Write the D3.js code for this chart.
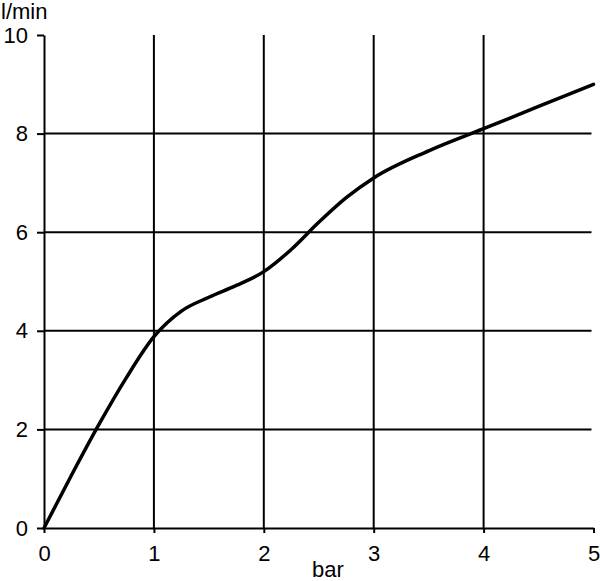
<!DOCTYPE html>
<html><head><meta charset="utf-8">
<script src="https://cdn.jsdelivr.net/npm/d3@7"></script>
<style>body{margin:0;background:#fff}svg{display:block}text{font-family:"Liberation Sans",Arial,sans-serif;fill:#000}</style>
</head><body>
<svg id="c" width="600" height="581"></svg>
<script>
const pressure = [0, 0.25, 0.5, 0.75, 1, 1.25, 1.5, 1.75, 2, 2.25, 2.5, 2.75, 3, 3.5, 4, 4.5, 5];
const flow =     [0, 1.07, 2.1, 3.05, 3.88, 4.4, 4.68, 4.92, 5.2, 5.65, 6.2, 6.7, 7.1, 7.65, 8.1, 8.55, 9.0];
const xTicks = [0, 1, 2, 3, 4, 5];
const yTicks = [0, 2, 4, 6, 8, 10];
const xLabel = "bar";
const yLabel = "l/min";

const svg = d3.select("#c");
const x = d3.scaleLinear().domain([0, 5]).range([44, 593.5]);
const y = d3.scaleLinear().domain([0, 10]).range([528, 35]);

// vertical grid
svg.append("g").selectAll("line").data(xTicks.filter(d => d > 0 && d < 5)).join("line")
  .attr("x1", d => x(d)).attr("x2", d => x(d)).attr("y1", y(10)).attr("y2", y(0))
  .attr("stroke", "#000").attr("stroke-width", 2);
// horizontal grid
svg.append("g").selectAll("line").data(yTicks.filter(d => d > 0 && d < 10)).join("line")
  .attr("x1", x(0)).attr("x2", x(5) - 2).attr("y1", d => y(d)).attr("y2", d => y(d))
  .attr("stroke", "#000").attr("stroke-width", 2);

const xAxis = d3.axisBottom(x).tickValues(xTicks).tickFormat(d3.format("d")).tickSize(5).tickPadding(9).tickSizeOuter(0);
const gx = svg.append("g").attr("transform", `translate(0,${y(0)})`).call(xAxis);
const yAxis = d3.axisLeft(y).tickValues(yTicks).tickFormat(d3.format("d")).tickSize(7).tickPadding(9).tickSizeOuter(0);
const gy = svg.append("g").attr("transform", `translate(${x(0)},0)`).call(yAxis);
[gx, gy].forEach(g => {
  g.select(".domain").attr("stroke", "#000").attr("stroke-width", 2);
  g.selectAll(".tick line").attr("stroke", "#000").attr("stroke-width", 2);
  g.selectAll(".tick text").attr("font-size", 22).attr("font-family", "Liberation Sans, Arial, sans-serif").attr("fill", "#000");
});
gx.selectAll(".tick text").attr("dy", "0.85em");

svg.append("text").attr("x", 328).attr("y", 577).attr("text-anchor", "middle").attr("font-size", 22).text(xLabel);
svg.append("text").attr("x", 1).attr("y", 19).attr("font-size", 22).text(yLabel);

const pts = pressure.map((p, i) => [p, flow[i]]);
svg.append("path").datum(pts)
  .attr("d", d3.line().x(d => x(d[0])).y(d => y(d[1])).curve(d3.curveMonotoneX))
  .attr("fill", "none").attr("stroke", "#000").attr("stroke-width", 3.5).attr("stroke-linecap", "round");
</script>
</body></html>
